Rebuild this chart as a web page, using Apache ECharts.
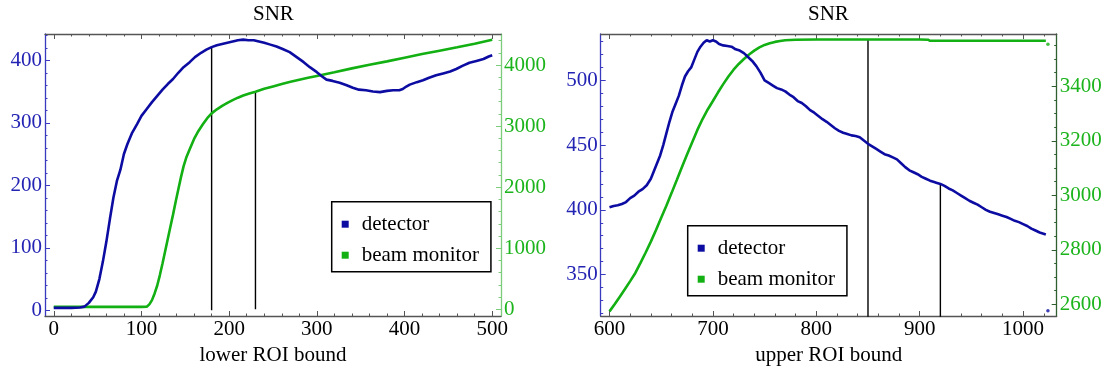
<!DOCTYPE html>
<html>
<head>
<meta charset="utf-8">
<script src="https://cdn.jsdelivr.net/npm/echarts@6/dist/echarts.min.js"></script>
<style>
  html, body { margin: 0; padding: 0; background: #fff; }
  #chart { width: 1110px; height: 370px; }
</style>
</head>
<body>
<div id="chart"></div>
<script>
// SNR versus the lower ROI bound: [bound, SNR]
const detectorLower = [
  [0,4],[10,4],[20,4],[30,4.5],[35,6],[40,12],[45,21],[48,30],[52,50],[56,78],[60,110],[64,146],
  [68,180],[72,207],[76,225],[80,250],[84,266],[89,283],[95,298],[100,311],[106,322],[112,333],
  [118,343],[124,353],[130,362],[136,370],[142,380],[148,389],[155,397],[161,405],[168,412],
  [174,417],[180,421],[186,424],[192,426],[198,428],[204,430],[210,432],[216,433],[222,432],
  [228,432],[234,430],[240,428],[247,425],[254,422],[261,418],[269,413],[277,405],[285,397],
  [292,389],[300,381],[306,374],[311,369],[318,367],[326,364],[334,360],[341,356],[348,353],
  [356,352],[364,350],[372,349],[380,351],[387,352],[394,352],[398,354],[402,358],[406,361],
  [414,365],[421,368],[428,372],[436,376],[444,379],[452,382],[459,386],[466,391],[474,396],
  [482,399],[490,402],[496,406],[500,408]
];
const beamLower = [
  [0,40],[20,40],[40,40],[60,40],[80,40],[100,40],[106,42],[109,80],[112,150],[115,260],
  [118,390],[121,560],[124,750],[127,950],[130,1150],[133,1350],[136,1550],[139,1760],
  [142,1960],[145,2160],[148,2340],[151,2480],[155,2620],[160,2790],[165,2920],[170,3030],
  [175,3130],[180,3208],[186,3275],[192,3332],[198,3380],[204,3425],[210,3465],[216,3500],
  [223,3535],[230,3562],[240,3610],[250,3650],[260,3690],[270,3725],[280,3758],[290,3790],
  [300,3820],[320,3880],[340,3945],[360,4005],[380,4060],[400,4120],[420,4180],[440,4235],
  [460,4290],[480,4350],[500,4415]
];

// SNR versus the upper ROI bound: [bound, SNR]
const detectorUpper = [
  [600,402],[604,403],[608,403.5],[612,404.5],[616,406],[620,409],[624,411],[628,414],[632,416],
  [636,419],[640,424],[643,430],[646,436],[649,442],[652,450],[655,459],[658,468],[661,476],
  [664,482],[667,488],[670,496],[673,503],[676,507],[679,510],[682,516],[685,522],[688,526],
  [691,529],[694,531],[697,530],[700,531],[703,530],[706,528],[710,527],[714,526.5],[718,526],
  [722,524],[726,523],[730,521],[734,518],[738,515],[742,511],[746,506],[750,500],[754,498],
  [758,496],[762,494],[766,493],[770,491.5],[774,489],[778,487],[782,484],[786,482.5],[790,480],
  [794,477],[798,475],[802,472.5],[806,470],[810,468],[814,465.5],[818,463],[822,461],
  [826,459.5],[830,458.5],[834,457.5],[838,457],[842,456],[846,453.5],[850,451],[854,449],
  [858,447],[862,445],[866,443],[870,442],[874,440.5],[878,439],[882,436],[886,433],[890,430.5],
  [894,429],[898,427.5],[902,425.5],[906,424],[910,422.5],[914,421.5],[916,421],[920,420],
  [924,418.5],[928,416.5],[932,415],[936,413],[940,411],[944,409],[948,407],[952,405.5],
  [956,404],[960,402],[964,400],[968,398.5],[972,397.5],[976,396.5],[980,395.5],[984,394.5],
  [988,393],[992,391.5],[996,390.5],[1000,389],[1004,387.5],[1008,385.5],[1012,384],
  [1016,382.5],[1022,381],[1024,322]
];
const beamUpper = [
  [600,2574],[605,2600],[610,2628],[615,2656],[620,2685],[625,2715],[630,2752],[635,2790],
  [640,2830],[645,2873],[650,2918],[655,2962],[660,3008],[665,3055],[670,3103],[675,3150],
  [680,3195],[685,3240],[690,3280],[695,3315],[700,3346],[705,3378],[710,3408],[715,3436],
  [720,3461],[725,3482],[730,3500],[735,3517],[740,3531],[745,3543],[750,3552],[755,3558],
  [760,3563],[765,3566],[770,3569],[780,3571],[800,3572],[850,3572],[900,3572],[908,3571],
  [910,3567],[950,3567],[1000,3567],[1022,3567],[1024,3554]
];

// tick labels
const lowerBoundTicks = [0, 100, 200, 300, 400, 500];
const lowerDetectorTicks = [0, 100, 200, 300, 400];
const lowerBeamTicks = [0, 1000, 2000, 3000, 4000];
const upperBoundTicks = [600, 700, 800, 900, 1000];
const upperDetectorTicks = [350, 400, 450, 500];
const upperBeamTicks = [2600, 2800, 3000, 3200, 3400];

// chosen ROI bounds, each marked up to the curve it was picked from
const lowerCuts = [{ at: 180, curve: 'detector' }, { at: 230, curve: 'beam' }];
const upperCuts = [{ at: 850, curve: 'beam' }, { at: 920, curve: 'detector' }];

const FONT = '"Liberation Serif", "DejaVu Serif", serif';
const BLUE = '#0c0ca2';
const BLUE_TEXT = '#2424b4';
const BLUE_AXIS = '#3a3abf';
const GREEN = '#12b012';
const GREEN_TEXT = '#1cb41c';
const FRAME = '#555';

function steps(from, to, step) {
  const out = [];
  for (let v = from; v <= to + 1e-9; v += step) out.push(v);
  return out;
}
function valueAt(series, x) {
  for (let i = 0; i < series.length - 1; i++) {
    const a = series[i], b = series[i + 1];
    if (x >= a[0] && x <= b[0]) return a[1] + (b[1] - a[1]) * (x - a[0]) / (b[0] - a[0]);
  }
  return series[series.length - 1][1];
}

const plain = v => String(v);

// One frame side = a labelled axis with long ticks plus a bare one with short ticks.
function sideAxes(opt) {
  const common = {
    type: 'value', gridIndex: opt.grid, position: opt.position,
    min: opt.min, max: opt.max, splitLine: { show: false }, silent: true
  };
  const major = Object.assign({}, common, {
    axisLine: { show: true, onZero: false, lineStyle: { color: opt.lineColor, width: 1.3 } },
    axisTick: { show: true, inside: true, length: 5, customValues: opt.major,
      lineStyle: { color: opt.lineColor, width: 1 } },
    axisLabel: opt.labels ? {
      show: true, customValues: opt.major, formatter: plain, margin: 3,
      fontFamily: FONT, fontSize: 21, color: opt.textColor
    } : { show: false }
  });
  if (opt.name) {
    major.name = opt.name;
    major.nameLocation = 'middle';
    major.nameGap = 29;
    major.nameTextStyle = { fontFamily: FONT, fontSize: 21, color: '#000' };
  }
  const minor = Object.assign({}, common, {
    axisLine: { show: false, onZero: false },
    axisTick: { show: true, inside: true, length: 2.5, customValues: opt.minor,
      lineStyle: { color: opt.lineColor, width: 1 } },
    axisLabel: { show: false }
  });
  return [major, minor];
}

const xAxis = [].concat(
  // left panel: bottom, top
  sideAxes({ grid: 0, position: 'bottom', min: -10, max: 510, lineColor: FRAME, textColor: '#000',
    major: lowerBoundTicks, minor: steps(0, 500, 20), labels: true, name: 'lower ROI bound' }),
  sideAxes({ grid: 0, position: 'top', min: -10, max: 510, lineColor: FRAME,
    major: lowerBoundTicks, minor: steps(0, 500, 20), labels: false }),
  // right panel: bottom, top
  sideAxes({ grid: 1, position: 'bottom', min: 591.5, max: 1032.5, lineColor: FRAME, textColor: '#000',
    major: upperBoundTicks, minor: steps(600, 1020, 20), labels: true, name: 'upper ROI bound' }),
  sideAxes({ grid: 1, position: 'top', min: 591.5, max: 1032.5, lineColor: FRAME,
    major: upperBoundTicks, minor: steps(600, 1020, 20), labels: false })
);

const yAxis = [].concat(
  sideAxes({ grid: 0, position: 'left', min: -9, max: 442, lineColor: BLUE_AXIS, textColor: BLUE_TEXT,
    major: lowerDetectorTicks, minor: steps(0, 440, 20), labels: true }),
  sideAxes({ grid: 0, position: 'right', min: -110, max: 4508, lineColor: '#7ccc7c', textColor: GREEN_TEXT,
    major: lowerBeamTicks, minor: steps(0, 4400, 200), labels: true }),
  sideAxes({ grid: 1, position: 'left', min: 318, max: 535.8, lineColor: BLUE_AXIS, textColor: BLUE_TEXT,
    major: upperDetectorTicks, minor: steps(320, 530, 10), labels: true }),
  sideAxes({ grid: 1, position: 'right', min: 2557, max: 3592, lineColor: '#2f5f2f', textColor: GREEN_TEXT,
    major: upperBeamTicks, minor: steps(2600, 3550, 50), labels: true })
);

function curve(name, data, xi, yi, color, z) {
  return {
    name, type: 'line', data, xAxisIndex: xi, yAxisIndex: yi,
    showSymbol: false, smooth: false, animation: false, silent: true, z,
    lineStyle: { color, width: 2.6 }, itemStyle: { color }
  };
}
function dot(name, point, xi, yi, color) {
  return {
    name, type: 'scatter', data: [point], xAxisIndex: xi, yAxisIndex: yi,
    symbol: 'circle', symbolSize: 3.5, animation: false, silent: true, z: 4,
    itemStyle: { color }
  };
}
function cutLines(cuts, xi, detYi, beamYi, det, beam) {
  return cuts.map(c => {
    const src = c.curve === 'detector' ? det : beam;
    return {
      type: 'line', xAxisIndex: xi, yAxisIndex: c.curve === 'detector' ? detYi : beamYi,
      data: [[c.at, 0], [c.at, valueAt(src, c.at)]],
      showSymbol: false, animation: false, silent: true, z: 2,
      lineStyle: { color: '#000', width: 1.4 }
    };
  });
}

const series = [].concat(
  cutLines(lowerCuts, 0, 0, 2, detectorLower, beamLower),
  cutLines(upperCuts, 4, 4, 6, detectorUpper, beamUpper),
  [
    curve('beam monitor', beamLower, 0, 2, GREEN, 3),
    curve('detector', detectorLower, 0, 0, BLUE, 4),
    curve('beam monitor', beamUpper.slice(0, -1), 4, 6, GREEN, 3),
    curve('detector', detectorUpper.slice(0, -1), 4, 4, BLUE, 4),
    dot('beam monitor', beamUpper[beamUpper.length - 1], 4, 6, GREEN),
    dot('detector', detectorUpper[detectorUpper.length - 1], 4, 4, BLUE)
  ]
);

function legendAt(left, top) {
  return {
    left, top, orient: 'vertical', selectedMode: false,
    data: [{ name: 'detector', icon: 'rect' }, { name: 'beam monitor', icon: 'rect' }],
    itemWidth: 7, itemHeight: 7, itemGap: 7,
    padding: [10.5, 12, 4.6, 10],
    borderColor: '#000', borderWidth: 1.5, backgroundColor: '#fff',
    textStyle: { fontFamily: FONT, fontSize: 21, color: '#000', lineHeight: 24, padding: [0, 0, 0, 8] }
  };
}

const chart = echarts.init(document.getElementById('chart'), null, { renderer: 'canvas' });
chart.setOption({
  animation: false,
  backgroundColor: '#fff',
  title: [
    { text: 'SNR', left: 253, top: 4, padding: 0,
      textStyle: { fontFamily: FONT, fontSize: 21, fontWeight: 'normal', color: '#000' } },
    { text: 'SNR', left: 808, top: 4, padding: 0,
      textStyle: { fontFamily: FONT, fontSize: 21, fontWeight: 'normal', color: '#000' } }
  ],
  grid: [
    { left: 45, top: 34, width: 456, height: 282, containLabel: false, outerBoundsMode: 'none' },
    { left: 600.7, top: 34, width: 456, height: 282, containLabel: false, outerBoundsMode: 'none' }
  ],
  legend: [legendAt(331.7, 201.7), legendAt(687.7, 225.7)],
  xAxis,
  yAxis,
  series
});
</script>
</body>
</html>
